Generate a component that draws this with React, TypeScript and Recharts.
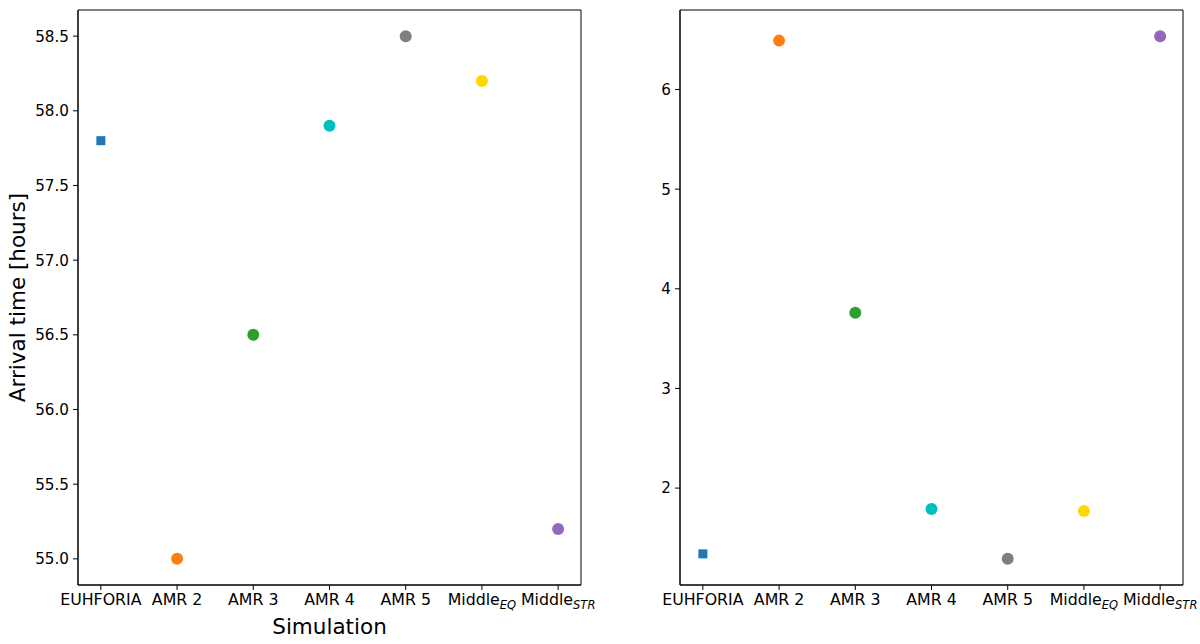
import { ReferenceArea, Scatter, ScatterChart, XAxis, YAxis } from 'recharts';

const simulations = ['EUHFORIA', 'AMR 2', 'AMR 3', 'AMR 4', 'AMR 5', 'Middle_EQ', 'Middle_STR'];
const markerColors = ['#1f77b4', '#ff7f0e', '#2ca02c', '#00bfbf', '#7f7f7f', '#ffd700', '#9467bd'];
const arrivalTimes = [57.8, 55.0, 56.5, 57.9, 58.5, 58.2, 55.2];
const rightValues = [1.34, 6.49, 3.76, 1.79, 1.29, 1.77, 6.535];
const leftTicks = [55.0, 55.5, 56.0, 56.5, 57.0, 57.5, 58.0, 58.5];
const rightTicks = [2, 3, 4, 5, 6];
const xTicks = simulations.map((_, i) => i);

const FONT = 'DejaVu Sans';

const buildRows = (values: number[]) =>
  values.map((v, i) => ({ x: i, y: v, name: simulations[i], color: markerColors[i], square: i === 0 }));

// matplotlib-style 5% padding around the data
const padded = (values: number[]): [number, number] => {
  const lo = Math.min(...values);
  const hi = Math.max(...values);
  const m = (hi - lo) * 0.05;
  return [lo - m, hi + m];
};

const SimTick = (props: any) => {
  const { x, y, payload } = props;
  const name: string = simulations[payload.value] ?? '';
  const [main, sub] = name.split('_');
  return (
    <text x={x} y={y} dy="0.72em" textAnchor="middle" fontFamily={FONT} fontSize={15.8} fill="#000">
      <tspan>{main}</tspan>
      {sub && (
        <tspan dy={4} fontSize={11.5} fontStyle="italic">
          {sub}
        </tspan>
      )}
    </text>
  );
};

const Marker = (props: any) => {
  const { cx, cy, payload } = props;
  if (payload.square) {
    return <rect x={cx - 4.5} y={cy - 4.5} width={9} height={9} fill={payload.color} />;
  }
  return <circle cx={cx} cy={cy} r={6} fill={payload.color} />;
};

type PanelProps = {
  values: number[];
  ticks: number[];
  digits: number;
  axisWidth: number;
  right: number;
  yLabel?: string;
  xLabel?: string;
};

const Panel = ({ values, ticks, digits, axisWidth, right, yLabel, xLabel }: PanelProps) => {
  const yDomain = padded(values);
  return (
    <ScatterChart width={600} height={644} margin={{ top: 10, right, bottom: 0, left: 0 }}>
      <XAxis
        type="number"
        dataKey="x"
        domain={[-0.3, 6.3]}
        ticks={xTicks}
        interval={0}
        height={59}
        tick={<SimTick />}
        tickSize={5}
        tickMargin={4}
        axisLine={{ stroke: '#000' }}
        tickLine={{ stroke: '#000' }}
        allowDataOverflow
        label={{
          content: ({ viewBox }: any) =>
            xLabel ? (
              <text
                x={viewBox.x + viewBox.width / 2}
                y={viewBox.y + 49}
                textAnchor="middle"
                fontFamily={FONT}
                fontSize={21.5}
                fill="#000"
              >
                {xLabel}
              </text>
            ) : null,
        }}
      />
      <YAxis
        type="number"
        dataKey="y"
        domain={yDomain}
        ticks={ticks}
        width={axisWidth}
        allowDataOverflow
        tickFormatter={(v: number) => v.toFixed(digits)}
        tick={{ fontFamily: FONT, fontSize: 15.2, fill: '#000' }}
        tickSize={5}
        tickMargin={4}
        axisLine={{ stroke: '#000' }}
        tickLine={{ stroke: '#000' }}
        label={{
          content: ({ viewBox }: any) =>
            yLabel ? (
              <text
                transform={`translate(17, ${viewBox.y + viewBox.height / 2}) rotate(-90)`}
                textAnchor="middle"
                dominantBaseline="central"
                fontFamily={FONT}
                fontSize={21.5}
                fill="#000"
              >
                {yLabel}
              </text>
            ) : null,
        }}
      />
      <ReferenceArea
        x1={-0.3}
        x2={6.3}
        y1={yDomain[0]}
        y2={yDomain[1]}
        fill="none"
        stroke="#000"
        strokeWidth={1}
        ifOverflow="visible"
      />
      <Scatter data={buildRows(values)} shape={<Marker />} isAnimationActive={false} />
    </ScatterChart>
  );
};

export default function App() {
  return (
    <div style={{ position: 'absolute', left: 0, top: 0, width: 1200, height: 644, background: '#fff' }}>
      <div style={{ position: 'absolute', left: 0, top: 0 }}>
        <Panel
          values={arrivalTimes}
          ticks={leftTicks}
          digits={1}
          axisWidth={78}
          right={19}
          yLabel="Arrival time [hours]"
          xLabel="Simulation"
        />
      </div>
      <div style={{ position: 'absolute', left: 600, top: 0 }}>
        <Panel values={rightValues} ticks={rightTicks} digits={0} axisWidth={80} right={17} />
      </div>
    </div>
  );
}
